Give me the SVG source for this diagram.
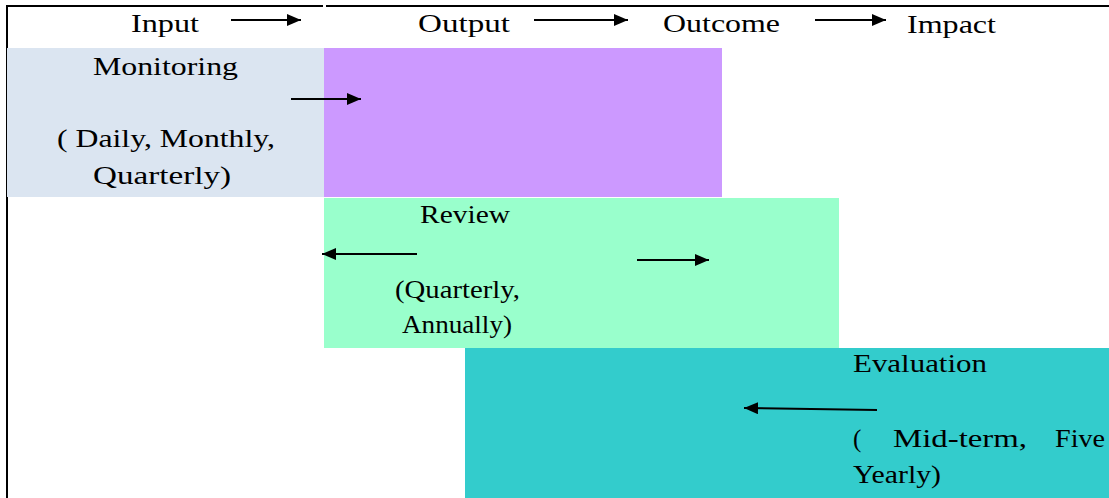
<svg xmlns="http://www.w3.org/2000/svg" width="1109" height="498" viewBox="0 0 1109 498">
<defs>
<marker id="ah" viewBox="0 0 14 12" refX="14" refY="6" markerWidth="14" markerHeight="12" markerUnits="userSpaceOnUse" orient="auto"><path d="M0,0 L14,6 L0,12 z" fill="#000"/></marker>
<style>
text{font-family:"Liberation Serif","Times New Roman",serif;font-size:25px;fill:#000}
.c{stroke:#000;stroke-width:2;fill:none}
.b{stroke:#000;stroke-width:2}
</style>
</defs>
<rect width="1109" height="498" fill="#fff"/>
<g id="frame">
<line class="b" x1="6" y1="6" x2="323" y2="6"/>
<line class="b" x1="326" y1="6" x2="1109" y2="6"/>
<line class="b" x1="7" y1="6" x2="7" y2="498"/>
</g>
<g id="header">
<text x="131" y="32" textLength="68" lengthAdjust="spacingAndGlyphs">Input</text>
<text x="418" y="32" textLength="92" lengthAdjust="spacingAndGlyphs">Output</text>
<text x="663" y="32" textLength="117" lengthAdjust="spacingAndGlyphs">Outcome</text>
<text x="907" y="33" textLength="89" lengthAdjust="spacingAndGlyphs">Impact</text>
</g>
<g id="monitoring">
<rect x="7" y="48" width="317" height="149" fill="#dbe5f1"/>
<text x="93" y="75" textLength="145" lengthAdjust="spacingAndGlyphs">Monitoring</text>
<text x="57" y="147" textLength="218" lengthAdjust="spacingAndGlyphs">( Daily, Monthly,</text>
<text x="93" y="184" textLength="138" lengthAdjust="spacingAndGlyphs">Quarterly)</text>
</g>
<g id="output-box">
<rect x="324" y="48" width="398" height="149" fill="#cc99ff"/>
</g>
<g id="review">
<rect x="324" y="198" width="515" height="150" fill="#99ffcc"/>
<text x="420" y="223" textLength="90" lengthAdjust="spacingAndGlyphs">Review</text>
<text x="395" y="298" textLength="125" lengthAdjust="spacingAndGlyphs">(Quarterly,</text>
<text x="402" y="333" textLength="110" lengthAdjust="spacingAndGlyphs">Annually)</text>
</g>
<g id="evaluation">
<rect x="465" y="348" width="644" height="150" fill="#33cccc"/>
<text x="853" y="372" textLength="134" lengthAdjust="spacingAndGlyphs">Evaluation</text>
<text x="853" y="447">(</text>
<text x="893" y="447" textLength="134" lengthAdjust="spacingAndGlyphs">Mid-term,</text>
<text x="1055" y="447" textLength="50" lengthAdjust="spacingAndGlyphs">Five</text>
<text x="853" y="483" textLength="88" lengthAdjust="spacingAndGlyphs">Yearly)</text>
</g>
<g id="connectors">
<line class="c" x1="231" y1="20" x2="301" y2="20" marker-end="url(#ah)"/>
<line class="c" x1="534" y1="20" x2="628" y2="20" marker-end="url(#ah)"/>
<line class="c" x1="815" y1="20" x2="886" y2="20" marker-end="url(#ah)"/>
<line class="c" x1="291" y1="99" x2="361" y2="99" marker-end="url(#ah)"/>
<line class="c" x1="417" y1="254" x2="322" y2="254" marker-end="url(#ah)"/>
<line class="c" x1="637" y1="260" x2="709" y2="260" marker-end="url(#ah)"/>
<line class="c" x1="877" y1="410" x2="744" y2="408" marker-end="url(#ah)"/>
</g>
</svg>
